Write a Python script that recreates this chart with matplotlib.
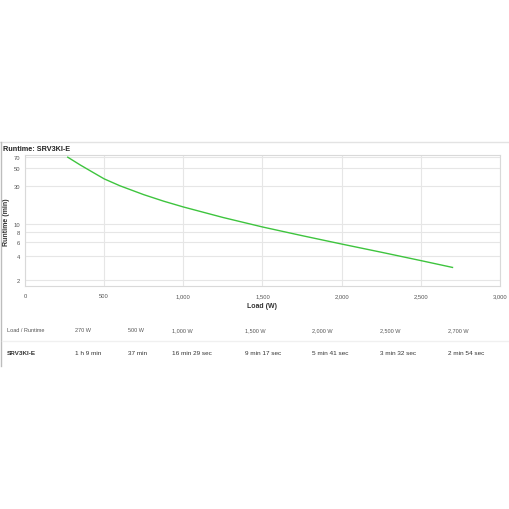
""" Runtime chart for SRV3KI-E """
import matplotlib
matplotlib.use('Agg')
import matplotlib.pyplot as plt
from matplotlib.lines import Line2D
from matplotlib.ticker import FixedLocator, NullLocator

plt.rcParams['font.family'] = ['Liberation Sans', 'DejaVu Sans']

# Curve (load in W, runtime in min)
curve_load = [270, 350, 430, 500, 600, 750, 875, 1000, 1250, 1500, 1750, 2000, 2250, 2500, 2700]
curve_runtime = [69, 55, 44.5, 37, 30.3, 23.5, 19.5, 16.5, 12.2, 9.28, 7.23, 5.68, 4.49, 3.53, 2.9]

# Table below the chart
table_loads = ['270 W', '500 W', '1,000 W', '1,500 W', '2,000 W', '2,500 W', '2,700 W']
table_times = ['1 h 9 min', '37 min', '16 min 29 sec', '9 min 17 sec',
               '5 min 41 sec', '3 min 32 sec', '2 min 54 sec']
model = 'SRV3KI-E'

x_ticks = [0, 500, 1000, 1500, 2000, 2500, 3000]
y_ticks = [2, 4, 6, 8, 10, 30, 50, 70]

W = H = 510
GRID = '#e6e6e6'
TEXT = '#555555'


def px(x, y):
    # pixel coords (top-left origin) -> figure fraction
    return x / W, 1 - y / H


def main():
    fig = plt.figure(figsize=(5.1, 5.1), dpi=100)
    fig.patch.set_facecolor('white')

    left, top = px(25, 156)
    right, bottom = px(500, 287)
    ax = fig.add_axes([left, bottom, right - left, top - bottom])

    ax.plot(curve_load, curve_runtime, color='#3ec43e', linewidth=1.0)

    ax.set_yscale('log')
    ax.set_xlim(0, 3000)
    ax.set_ylim(1.7, 73.5)
    ax.xaxis.set_major_locator(FixedLocator(x_ticks))
    ax.set_xticklabels([f'{t:,}' for t in x_ticks])
    ax.yaxis.set_major_locator(FixedLocator(y_ticks))
    ax.yaxis.set_minor_locator(NullLocator())
    ax.set_yticklabels([str(t) for t in y_ticks])
    ax.tick_params(length=0, labelsize=4.2, labelcolor=TEXT)
    ax.tick_params(axis='x', pad=5)
    ax.tick_params(axis='y', pad=3.5)
    ax.grid(True, color=GRID, linewidth=0.8)
    ax.set_axisbelow(True)
    for s in ax.spines.values():
        s.set_color('#d9d9d9')
        s.set_linewidth(0.8)

    ax.set_xlabel('Load (W)', fontsize=5, fontweight='bold', color='#333333', labelpad=3)
    fig.text(*px(6.5, 222), 'Runtime (min)', fontsize=5, fontweight='bold', color='#333333',
             rotation=90, va='center', ha='center')

    # title band and box borders
    fig.text(*px(3, 149.5), 'Runtime: ' + model, fontsize=5.2, fontweight='bold',
             color='#222222', va='center', ha='left')
    fig.add_artist(Line2D([0, 1], [1 - 143 / H] * 2, color='#e3e3e3', linewidth=1.0))
    fig.add_artist(Line2D([1.5 / W] * 2, [1 - 143 / H, 1 - 367 / H], color='#bdbdbd', linewidth=1.0))

    # table
    col_x = [75, 128, 172, 245, 312, 380, 448]
    fig.text(*px(7, 331), 'Load / Runtime', fontsize=4, color=TEXT, va='center')
    fig.text(*px(7, 354), model, fontsize=4.6, fontweight='bold', color='#333333', va='center')
    for cx, load, t in zip(col_x, table_loads, table_times):
        fig.text(*px(cx, 331), load, fontsize=4, color=TEXT, va='center')
        fig.text(*px(cx, 354), t, fontsize=4.6, color='#333333', va='center')
    fig.add_artist(Line2D([2 / W, 1], [1 - 342 / H] * 2, color='#f0f0f0', linewidth=1.0))

    fig.savefig('out.png', dpi=100, facecolor='white')


if __name__ == '__main__':
    main()
